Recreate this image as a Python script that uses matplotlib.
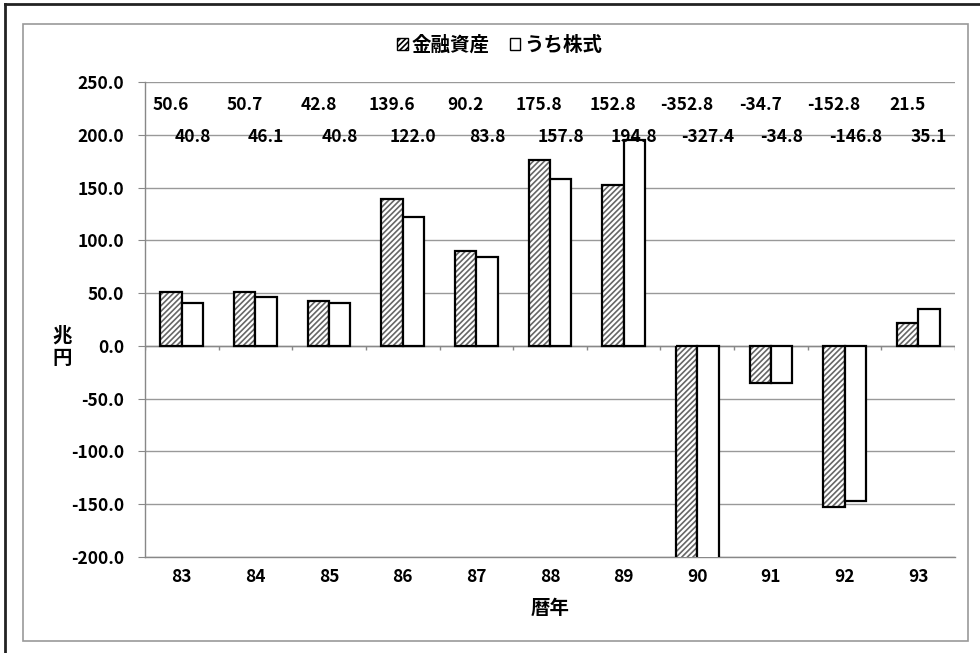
import numpy as np
import matplotlib.pyplot as plt
from matplotlib.patches import Rectangle
from matplotlib.lines import Line2D

plt.rcParams['font.family'] = ['Noto Sans CJK JP', 'DejaVu Sans']
plt.rcParams['font.weight'] = 'bold'
plt.rcParams['hatch.color'] = '#666666'
plt.rcParams['hatch.linewidth'] = 1.2

# data
years = ['83', '84', '85', '86', '87', '88', '89', '90', '91', '92', '93']
assets = [50.6, 50.7, 42.8, 139.6, 90.2, 175.8, 152.8, -352.8, -34.7, -152.8, 21.5]
stocks = [40.8, 46.1, 40.8, 122.0, 83.8, 157.8, 194.8, -327.4, -34.8, -146.8, 35.1]
series_names = ['金融資産', 'うち株式']

FS = 12.5
FS_JP = 14

fig = plt.figure(figsize=(9.8, 6.53), dpi=100)
ax = fig.add_axes([145 / 980, 1 - 557 / 653, 810 / 980, 475 / 653])

x = np.arange(len(years))
w = 0.29

# hatched series: fill with hatch, then black outline on top
ax.bar(x - w / 2, assets, w, color='white', edgecolor='#666666', hatch='//////',
       linewidth=0, zorder=3)
ax.bar(x - w / 2, assets, w, fill=False, edgecolor='black', linewidth=1.6, zorder=4)
ax.bar(x + w / 2, stocks, w, color='white', edgecolor='black', linewidth=1.6, zorder=4)

ax.set_ylim(-200, 250)
ax.set_xlim(-0.5, len(years) - 0.5)
ax.set_yticks(np.arange(-200, 251, 50))
ax.set_yticklabels([f'{v:.1f}' for v in np.arange(-200, 251, 50)], fontsize=FS,
                   fontweight='bold')
ax.set_xticks(x)
ax.set_xticklabels(years, fontsize=FS, fontweight='bold')
ax.tick_params(axis='x', length=0, pad=8)
ax.tick_params(axis='y', length=5, color='#888888', pad=10)
ax.grid(axis='y', color='#999999', linewidth=1, zorder=0)
for s in ['top', 'right']:
    ax.spines[s].set_visible(False)
for s in ['left', 'bottom']:
    ax.spines[s].set_color('#888888')
    ax.spines[s].set_linewidth(1)

# category axis at zero with small tick marks between categories
ax.axhline(0, color='#888888', linewidth=1, zorder=2)
ax.vlines(np.arange(len(years) + 1) - 0.5, -4, 0, color='#888888', linewidth=1, zorder=2)

# data labels
for i in range(len(years)):
    ax.text(x[i] - w / 2, 228, f'{assets[i]:.1f}', ha='center', va='center',
            fontsize=FS, fontweight='bold', zorder=6)
    ax.text(x[i] + w / 2, 198, f'{stocks[i]:.1f}', ha='center', va='center',
            fontsize=FS, fontweight='bold', zorder=6)

ax.set_xlabel('暦年', fontsize=FS_JP, fontweight='bold', labelpad=9)
fig.text(62 / 980, 1 - 347 / 653, '兆\n円', ha='center', va='center', fontsize=FS_JP,
         fontweight='bold', linespacing=1.2)

# legend
h1 = Rectangle((0, 0), 1, 1, facecolor='white', edgecolor='black', hatch='//////', linewidth=1)
h2 = Rectangle((0, 0), 1, 1, facecolor='white', edgecolor='black', linewidth=1)
fig.legend([h1, h2], series_names, loc='center', bbox_to_anchor=(0.51, 1 - 45 / 653),
           ncol=2, frameon=False, prop={'size': FS_JP, 'weight': 'bold'},
           handlelength=0.55, handleheight=0.55, handletextpad=0.2, columnspacing=1.0)

# frames
fig.add_artist(Rectangle((23 / 980, 1 - 641 / 653), 945 / 980, 617 / 653,
                         transform=fig.transFigure, fill=False, edgecolor='#999999',
                         linewidth=1.2))
fig.add_artist(Line2D([5 / 980, 5 / 980], [0, 1 - 4 / 653], transform=fig.transFigure,
                      color='#222222', linewidth=2))
fig.add_artist(Line2D([5 / 980, 1], [1 - 4 / 653, 1 - 4 / 653], transform=fig.transFigure,
                      color='#222222', linewidth=2))

fig.savefig('out.png', dpi=100)
